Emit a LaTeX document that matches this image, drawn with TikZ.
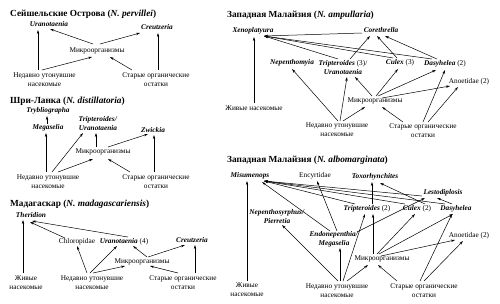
\documentclass[tikz,border=0pt]{standalone}
\usepackage{fontspec}
\setmainfont{Liberation Serif}
\usetikzlibrary{arrows.meta}
\newcommand\taxon[1]{\textbf{\textit{#1}}}
\newcommand\lnk[4]{\draw[arr] ([shift={(#2)}]#1.center) -- ([shift={(#4)}]#3.center);}
\begin{document}
\begin{tikzpicture}[x=1pt,y=-1pt,
  lbl/.style={font=\fontsize{7.3}{9}\selectfont, inner sep=0pt, align=center},
  ttl/.style={font=\bfseries\fontsize{9.3}{10}\selectfont, anchor=west, inner sep=0pt},
  arr/.style={-{Stealth[length=4pt,width=2.4pt]}, line width=0.5pt}]
\useasboundingbox (0,0) rectangle (500,303);
\fill[white] (0,0) rectangle (500,303);

% ---------- Panel 1 ----------
\node[ttl] (t1) at (10,14) {Сейшельские Острова (\textit{N. pervillei})};
\node[lbl] (u1) at (49,24) {\taxon{Uranotaenia}};
\node[lbl] (c1) at (157,27) {\taxon{Creutzeria}};
\node[lbl] (m1) at (97,51) {Микроорганизмы};
\node[lbl] (n1) at (44.5,79.5) {Недавно утонувшие\\насекомые};
\node[lbl] (s1) at (156,79.5) {Старые органические\\остатки};
\lnk{n1}{-6.5,-9.5}{u1}{-11,6}
\lnk{m1}{-4,-7}{u1}{1,5}
\lnk{m1}{3,-7}{c1}{-17,6}
\lnk{n1}{-2.5,-9.5}{m1}{-5,6}
\lnk{s1}{-24,-9.5}{m1}{13,6}
\lnk{s1}{2,-9.5}{c1}{1,6}

% ---------- Panel 2 ----------
\node[ttl] (t2) at (10,101) {Шри-Ланка (\textit{N. distillatoria})};
\node[lbl] (tr2) at (48,111) {\taxon{Trybliographa}};
\node[lbl] (me2) at (48,128) {\taxon{Megaselia}};
\node[lbl] (tu2) at (98,123.5) {\taxon{Tripteroides/}\\\taxon{Uranotaenia}};
\node[lbl] (z2) at (153,130) {\taxon{Zwickia}};
\node[lbl] (m2) at (103,152) {Микроорганизмы};
\node[lbl] (n2) at (48,181.5) {Недавно утонувшие\\насекомые};
\node[lbl] (s2) at (156,181.5) {Старые органические\\остатки};
\lnk{me2}{-1,-4}{tr2}{-1,5}
\lnk{n2}{-2,-9.5}{me2}{-2,5}
\lnk{n2}{4,-9.5}{tu2}{-15,9.5}
\lnk{m2}{-7,-5}{tu2}{-2,9.5}
\lnk{n2}{10,-9.5}{m2}{-10,7}
\lnk{s2}{-26,-9.5}{m2}{5,7}
\lnk{m2}{5,-5}{z2}{-5,4}
\lnk{s2}{-2,-9.5}{z2}{1,5}

% ---------- Panel 3 ----------
\node[ttl] (t3) at (10,204) {Мадагаскар (\textit{N. madagascariensis})};
\node[lbl] (th3) at (31,215) {\taxon{Theridion}};
\node[lbl] (ch3) at (77,242) {Chloropidae};
\node[lbl] (ur3) at (124,242) {\taxon{Uranotaenia} (4)};
\node[lbl] (cr3) at (192,240) {\taxon{Creutzeria}};
\node[lbl] (m3) at (142,262) {Микроорганизмы};
\node[lbl] (zh3) at (26,282.5) {Живые\\насекомые};
\node[lbl] (n3) at (92,282.5) {Недавно утонувшие\\насекомые};
\node[lbl] (s3) at (183,282.5) {Старые органические\\остатки};
\lnk{zh3}{-3,-9.5}{th3}{-8,5}
\lnk{ch3}{-12,-4}{th3}{-1,7}
\lnk{ur3}{4,-5}{th3}{1,6}
\lnk{n3}{-5,-9.5}{ch3}{0,4}
\lnk{n3}{-2,-9.5}{ur3}{-7,4}
\lnk{n3}{1,-9.5}{m3}{-17,4}
\lnk{m3}{5,-5}{ur3}{9,4}
\lnk{m3}{6,-5}{cr3}{-7,5}
\lnk{s3}{-5,-9.5}{m3}{8,4}
\lnk{s3}{12,-9.5}{cr3}{3,5}

% ---------- Panel 4 ----------
\node[ttl] (t4) at (227,15) {Западная Малайзия (\textit{N. ampullaria})};
\node[lbl] (x4) at (253,31) {\taxon{Xenoplatyura}};
\node[lbl] (co4) at (381,30) {\taxon{Corethrella}};
\node[lbl] (np4) at (292,63) {\taxon{Nepenthomyia}};
\node[lbl] (tu4) at (343,67.5) {\taxon{Tripteroides} (3)/\\\taxon{Uranotaenia}};
\node[lbl] (cu4) at (400,63) {\taxon{Culex} (3)};
\node[lbl] (d4) at (445,64) {\taxon{Dasyhelea} (2)};
\node[lbl] (an4) at (469,82) {Anoetidae (2)};
\node[lbl] (m4) at (375,101) {Микроорганизмы};
\node[lbl] (zh4) at (254,108) {Живые насекомые};
\node[lbl] (n4) at (337,130) {Недавно утонувшие\\насекомые};
\node[lbl] (s4) at (423,131) {Старые органические\\остатки};
\lnk{zh4}{0,-5}{x4}{1,6}
\lnk{co4}{-19,3}{x4}{11,5}
\lnk{tu4}{-5,-8.5}{x4}{11,5}
\lnk{cu4}{-7,-5}{x4}{11,5}
\lnk{d4}{-13,-5}{x4}{11,5}
\lnk{tu4}{7,-8.5}{co4}{-11,6}
\lnk{cu4}{-3,-5}{co4}{-4,6}
\lnk{d4}{-8,-5}{co4}{4,6}
\lnk{n4}{1,-9}{np4}{0,6}
\lnk{n4}{3,-9}{tu4}{4,9.5}
\lnk{n4}{6,-9}{m4}{-10,6}
\lnk{m4}{-3,-5}{tu4}{12,9.5}
\lnk{m4}{1,-5}{cu4}{-2,6}
\lnk{m4}{3,-5}{d4}{-9,6}
\lnk{m4}{7,-3}{an4}{-19,4}
\lnk{s4}{-20,-9}{m4}{7,6}
\lnk{s4}{0,-9}{d4}{0,6}
\lnk{s4}{5,-9}{an4}{-11,5}

% ---------- Panel 5 ----------
\node[ttl] (t5) at (227,160) {Западная Малайзия (\textit{N. albomarginata})};
\node[lbl] (mi5) at (250,176) {\taxon{Misumenops}};
\node[lbl] (en5) at (315,176) {Encyrtidae};
\node[lbl] (to5) at (375,177) {\taxon{Toxorhynchites}};
\node[lbl] (le5) at (443,193) {\taxon{Lestodiplosis}};
\node[lbl] (tr5) at (367,209) {\taxon{Tripteroides} (2)};
\node[lbl] (cu5) at (417,209) {\taxon{Culex} (2)};
\node[lbl] (d5) at (456,209) {\taxon{Dasyhelea}};
\node[lbl] (ns5) at (277,216.5) {\taxon{Nepenthosyrphus/}\\\taxon{Pierretia}};
\node[lbl] (em5) at (334,239) {\taxon{Endonepenthia/}\\\taxon{Megaselia}};
\node[lbl] (an5) at (469,236) {Anoetidae (2)};
\node[lbl] (m5) at (382,259) {Микроорганизмы};
\node[lbl] (zh5) at (247,289.5) {Живые\\насекомые};
\node[lbl] (n5) at (337,290.5) {Недавно утонувшие\\насекомые};
\node[lbl] (s5) at (424,290.5) {Старые органические\\остатки};
\lnk{zh5}{0,-8.5}{mi5}{-3,5}
\lnk{le5}{-21,3}{mi5}{14,5}
\lnk{tr5}{-12,-5}{mi5}{14,5}
\lnk{cu5}{-12,-5}{mi5}{14,5}
\lnk{d5}{-11,-5}{mi5}{14,5}
\lnk{em5}{-4,-8}{mi5}{12,6}
\lnk{em5}{3,-8}{en5}{2,5}
\lnk{tr5}{5,-5}{to5}{-3,5}
\lnk{cu5}{8,-5}{to5}{5,6}
\lnk{d5}{-4,-5}{le5}{-6,5}
\lnk{em5}{23,-7}{le5}{-18,5}
\lnk{n5}{1,-9.5}{ns5}{5,8.5}
\lnk{n5}{3,-9.5}{em5}{6,9}
\lnk{n5}{6,-9.5}{tr5}{-2,5}
\lnk{n5}{10,-9.5}{m5}{-14,6}
\lnk{m5}{-9,-5}{tr5}{6,5}
\lnk{m5}{-5,-5}{cu5}{-2,5}
\lnk{m5}{-3,-5}{d5}{-3,5}
\lnk{m5}{-1,-3}{an5}{-14,4}
\lnk{s5}{-27,-9.5}{m5}{-4,6}
\lnk{s5}{-4,-9.5}{d5}{-4,5}
\lnk{s5}{0,-9.5}{an5}{-6,5}
\end{tikzpicture}
\end{document}
